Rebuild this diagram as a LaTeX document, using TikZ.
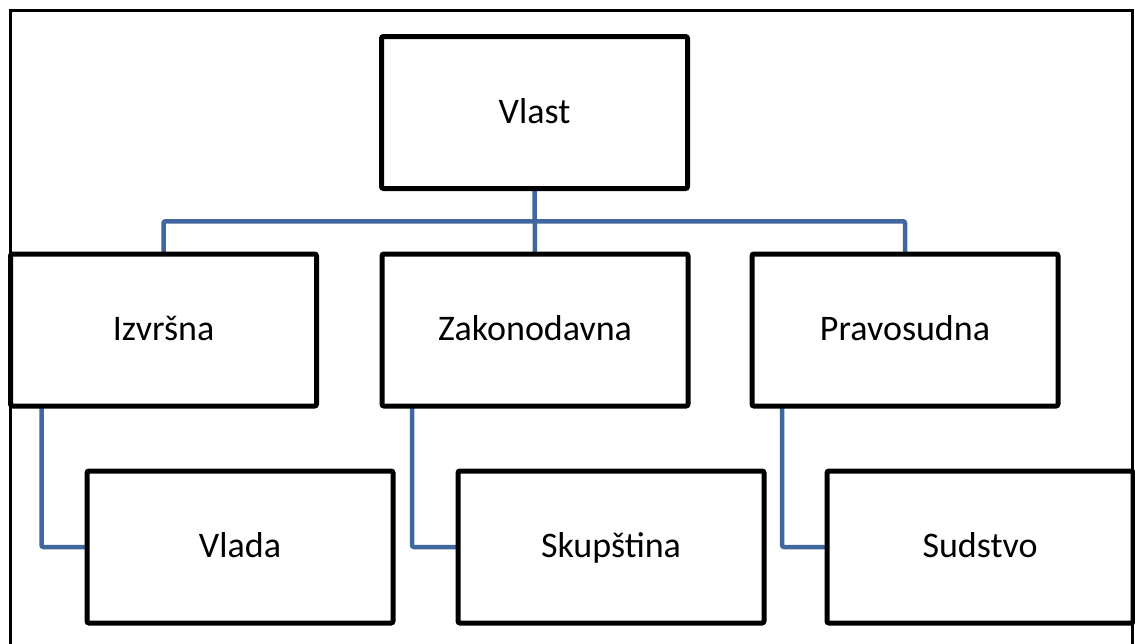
\documentclass[tikz,border=0pt]{standalone}
\usepackage{fontspec}
\setmainfont{Carlito}
\usetikzlibrary{backgrounds,calc}
\definecolor{linkblue}{HTML}{41689E}
\begin{document}
\begin{tikzpicture}[x=1pt,y=-1pt,
  box/.style={draw=black,fill=white,line width=5pt,rounded corners=2pt,
    minimum width=306pt,minimum height=152pt,inner sep=0pt,outer sep=0pt,
    text height=30pt,text depth=9pt,
    font=\fontsize{36}{43}\selectfont},
  link/.style={draw=linkblue,line width=4.5pt,rounded corners=2pt},
  frame/.style={draw=black,line width=2.2pt}]
\useasboundingbox (0,0) rectangle (1135,643);
% outer frame, open at the bottom
\draw[frame] (10.5,650) -- (10.5,10.5) -- (1132.5,10.5) -- (1132.5,650);
% boxes
\node[box] (vlast) at (534.5,112.5) {Vlast};
\node[box] (izv)   at (163.5,330)   {Izvršna};
\node[box] (zak)   at (535,330)     {Zakonodavna};
\node[box] (prav)  at (905,330)     {Pravosudna};
\node[box] (vlada) at (240,547)     {Vlada};
\node[box] (skup)  at (611,547)     {Skupština};
\node[box] (sud)   at (980,547)     {Sudstvo};
% connectors, drawn beneath the box outlines
\begin{pgfonlayer}{background}
\coordinate (bar) at ($(vlast.south)!0.5!(zak.north)$);
\draw[link] (vlast.south) -- (zak.north);
\draw[link] (izv.north) |- (bar) -| (prav.north);
\draw[link] ([xshift=31pt]izv.south west) |- (vlada.west);
\draw[link] ([xshift=30pt]zak.south west) |- (skup.west);
\draw[link] ([xshift=30pt]prav.south west) |- (sud.west);
\end{pgfonlayer}
\end{tikzpicture}
\end{document}
